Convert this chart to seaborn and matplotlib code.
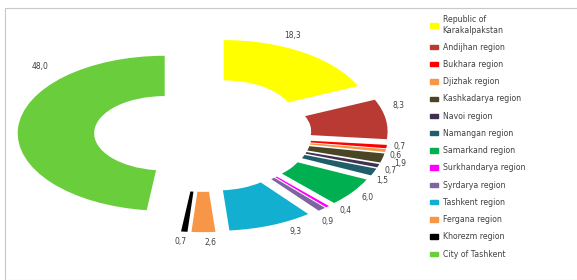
import matplotlib
matplotlib.use("Agg")
import matplotlib.pyplot as plt
import matplotlib.patches as mpatches
import seaborn as sns

REGIONS = [
    "Republic of\nKarakalpakstan", "Andijhan region", "Bukhara region",
    "Djizhak region", "Kashkadarya region", "Navoi region",
    "Namangan region", "Samarkand region", "Surkhandarya region",
    "Syrdarya region", "Tashkent region", "Fergana region",
    "Khorezm region", "City of Tashkent",
]
SHARES = [18.3, 8.3, 0.7, 0.6, 1.9, 0.7, 1.5, 6.0, 0.4, 0.9, 9.3, 2.6, 0.7, 48.0]
COLORS = [
    "#FFFF00", "#B93A32", "#FF0000", "#F79646", "#4A4526", "#403151",
    "#1F5D6B", "#00B050", "#FF00FF", "#8064A2", "#12AFD0", "#F79646",
    "#000000", "#6ACD3C",
]

# where the value labels sit (pie data units), spread out like the source
LABEL_POS = [
    (0.61, 1.28), (1.33, 0.38), (1.34, -0.15), (1.31, -0.27), (1.34, -0.37),
    (1.28, -0.47), (1.22, -0.60), (1.12, -0.81), (0.97, -0.98), (0.85, -1.12),
    (0.63, -1.25), (0.05, -1.40), (-0.15, -1.38), (-1.11, 0.88),
]


def main() -> None:
    sns.set_theme(style="white")
    plt.rcParams["font.family"] = ["DejaVu Sans"]

    fig = plt.figure(figsize=(5.77, 2.8), dpi=100)
    # thin grey frame like the source image
    fig.patches.append(mpatches.Rectangle(
        (5 / 577, 0.0), 1.0, (280 - 8) / 280, transform=fig.transFigure,
        fill=False, edgecolor="#c8c8c8", linewidth=0.8))

    ax = fig.add_axes([0 / 577, 13.75 / 280, 405.7 / 577, 263.5 / 280])
    labels = [f"{v:.1f}".replace(".", ",") for v in SHARES]
    wedges, texts = ax.pie(
        SHARES, colors=COLORS, startangle=90, counterclock=False,
        explode=[0.26] * len(SHARES), labels=labels, labeldistance=1.13,
        wedgeprops=dict(width=0.52, edgecolor="none"),
        textprops=dict(fontsize=5.5, color="#404040"),
    )
    ax.set_aspect("auto")
    ax.set_xlim(-1.38, 1.38)
    ax.set_ylim(-1.7, 1.7)
    for t, pos in zip(texts, LABEL_POS):
        t.set_position(pos)
        t.set_ha("center")
        t.set_va("center")

    handles = [mpatches.Patch(color=c) for c in COLORS]
    fig.legend(
        handles, REGIONS, loc="upper left", bbox_to_anchor=(427 / 577, 1 - 12 / 280),
        frameon=False, fontsize=5.6, handlelength=1.0, handleheight=0.5,
        handletextpad=0.6, labelspacing=1.06, borderaxespad=0,
        labelcolor="#404040",
    )

    fig.savefig("out.png", dpi=100)
    plt.close(fig)


if __name__ == "__main__":
    main()
